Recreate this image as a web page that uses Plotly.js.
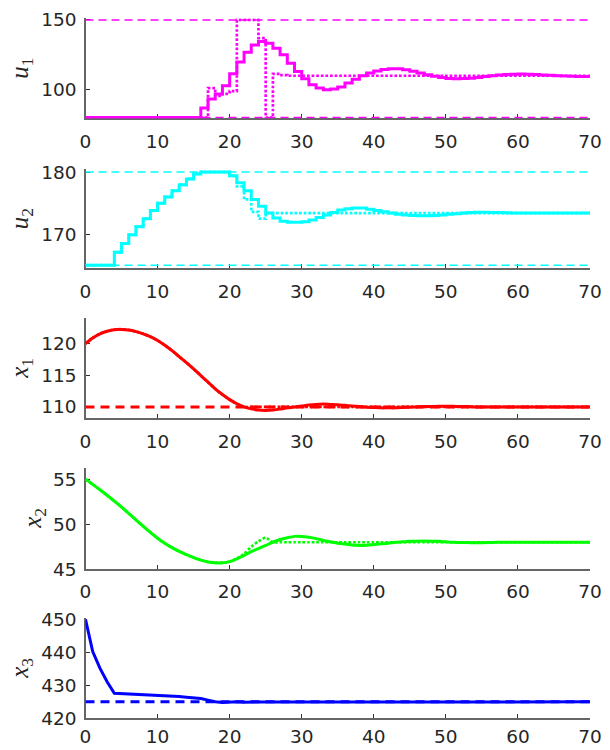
<!DOCTYPE html>
<html>
<head>
<meta charset="utf-8">
<script src="https://cdn.plot.ly/plotly-3.0.1.min.js"></script>
<style>html,body{margin:0;padding:0;background:#fff;}#chart{width:610px;height:750px;}</style>
</head>
<body>
<div id="chart"></div>
<script>
// ---------- data (time steps t = 0..70) ----------
var tEnd = 70;
var xTicks = [0, 10, 20, 30, 40, 50, 60, 70];

// inputs (piecewise constant, value for step t = 0..69)
var u1 = [80,80,80,80,80,80,80,80,80,80,80,80,80,80,80,80,
  86.9,93.3,96.9,102.9,111.4,119.8,126.9,132.1,134.5,133.3,129.8,125,119,113.1,
  107.9,103.6,101.2,100,100.5,101.9,104.8,107.5,110,112,113.5,114.5,115,115,114.3,
  113.2,112,110.8,109.6,108.7,108.1,107.9,108,108.3,108.8,109.4,110,110.5,110.9,
  111.1,111.2,111.1,110.9,110.6,110.3,110,109.8,109.6,109.5,109.5];
var u1Ref = [80,80,80,80,80,80,80,80,80,80,80,80,80,80,80,80,80,
  101.2,95.5,97,99,150,150,150,137,80,111.4,110.5,
  110,110,110,110,110,110,110,110,110,110,110,110,110,110,110,110,110,110,110,110,
  110,110,110,110,110,110,110,110,110,110,110,110,110,110,110,110,110,110,110,110,110,110];
var u1Bounds = [80, 150];

var u2 = [165,165,165,165,167.1,168.5,169.9,171.2,172.5,173.8,175,176,177,177.95,178.9,179.7,
  180,180,180,180,179.4,178.3,177,175.6,174.5,173.4,172.6,172.1,171.9,171.9,172,172.3,
  172.7,173.1,173.5,173.9,174.1,174.2,174.2,174,173.8,173.6,173.4,173.2,173.1,173,172.95,
  172.95,173,173.1,173.2,173.3,173.4,173.5,173.55,173.55,173.5,173.5,173.45,173.4,
  173.4,173.4,173.4,173.4,173.4,173.4,173.4,173.4,173.4,173.4];
var u2Ref = [165,165,165,165,167.1,168.5,169.9,171.2,172.5,173.8,175,176,177,177.95,178.9,179.7,
  180,180,180,180,179.4,177.7,175.6,173.6,172.5,
  173.4,173.4,173.4,173.4,173.4,173.4,173.4,173.4,173.4,173.4,173.4,173.4,173.4,173.4,173.4,
  173.4,173.4,173.4,173.4,173.4,173.4,173.4,173.4,173.4,173.4,173.4,173.4,173.4,173.4,173.4,
  173.4,173.4,173.4,173.4,173.4,173.4,173.4,173.4,173.4,173.4,173.4,173.4,173.4,173.4,173.4];
var u2Bounds = [165, 180];

// states (sampled at t = 0..70)
var x1 = [120,120.9,121.55,121.95,122.2,122.25,122.15,121.9,121.55,121.1,120.5,119.75,118.9,
  117.95,117,116,114.95,113.9,112.85,111.95,111.15,110.5,110,109.7,109.5,109.45,109.5,
  109.65,109.85,110,110.15,110.3,110.4,110.45,110.4,110.35,110.25,110.15,110.05,109.95,
  109.9,109.85,109.85,109.85,109.9,109.95,110,110.05,110.05,110.1,110.1,110.1,110.05,110.05,
  110,110,110,110,110,110,110,110,110,110,110,110,110,110,110,110,110];
var x1Ref = [120,120.9,121.55,121.95,122.2,122.25,122.15,121.9,121.55,121.1,120.5,119.75,118.9,
  117.95,117,116,114.95,113.9,112.85,111.95,111.15,110.5,110,
  110,110,110,110,110,110,110,110,110,110,110,110,110,110,110,110,110,110,110,110,110,110,110,
  110,110,110,110,110,110,110,110,110,110,110,110,110,110,110,110,110,110,110,110,110,110,110,110,110];
var x1Set = 110;

var x2 = [55,54.42,53.82,53.2,52.56,51.9,51.2,50.48,49.78,49.1,48.45,47.88,47.4,46.98,46.62,46.3,
  46.02,45.82,45.72,45.72,45.85,46.15,46.55,46.95,47.3,47.65,48,48.3,48.5,48.65,48.65,48.55,
  48.4,48.2,48.05,47.9,47.8,47.7,47.65,47.67,47.74,47.82,47.9,48,48.05,48.1,48.12,48.13,
  48.12,48.1,48.05,48,47.98,47.96,47.95,47.95,47.96,48,48,48,48,48,48,48,48,48,48,48,48,48,48];
var x2Ref = [55,54.42,53.82,53.2,52.56,51.9,51.2,50.48,49.78,49.1,48.45,47.88,47.4,46.98,46.62,46.3,
  46.02,45.82,45.72,45.72,45.85,46.2,46.7,47.5,48.1,48.5,
  48,48,48,48,48,48,48,48,48,48,48,48,48,48,48,48,48,48,48,48,48,48,48,48,48,48,48,48,48,48,
  48,48,48,48,48,48,48,48,48,48,48,48,48,48,48];

var x3 = [450,440.2,435.2,431.1,427.6,427.5,427.45,427.4,427.3,427.2,427.1,427,426.8,426.6,
  426.4,426.2,426,425.5,425,424.8,425,425,424.9,424.9,424.9,424.9,424.9,424.9,425.1,425.1,
  425.1,425.1,425.1,425.1,425.1,425.1,425,425,425,425,425,425,425,425,425,425,425,425,425,425,
  425,425,425,425,425,425,425,425,425,425,425,425,425,425,425,425,425,425,425,425,425];
var x3Set = 425;

// ---------- helpers ----------
function steps(n) { var a = []; for (var i = 0; i <= n; i++) a.push(i); return a; }
function stairsY(v) { return v.concat([v[v.length - 1]]); }

var MAG = '#ff00ff', CYA = '#00ffff', RED = '#ff0000', GRN = '#00ff00', BLU = '#0000ff';

var traces = [];
function add(ax, x, y, color, width, dash, shape) {
  var ln = {color: color, width: width, dash: dash || 'solid', shape: shape || 'linear'};
  if (shape === 'spline') ln.smoothing = 0.8;
  traces.push({
    x: x, y: y, type: 'scatter', mode: 'lines',
    xaxis: 'x' + (ax === 1 ? '' : ax), yaxis: 'y' + (ax === 1 ? '' : ax),
    line: ln, hoverinfo: 'skip', showlegend: false, cliponaxis: false
  });
}

// panel 1: u1
u1Bounds.forEach(function (b) { add(1, [0, tEnd], [b, b], MAG, 1.5, '8px,5px'); });
add(1, steps(u1.length), stairsY(u1), MAG, 3, 'solid', 'hv');
add(1, steps(u1Ref.length), stairsY(u1Ref), MAG, 2.7, '2.7px,1.9px', 'hv');
// panel 2: u2
u2Bounds.forEach(function (b) { add(2, [0, tEnd], [b, b], CYA, 1.5, '8px,5px'); });
add(2, steps(u2.length), stairsY(u2), CYA, 3, 'solid', 'hv');
add(2, steps(u2Ref.length), stairsY(u2Ref), CYA, 2.7, '2.7px,1.9px', 'hv');
// panel 3: x1
add(3, [0, tEnd], [x1Set, x1Set], RED, 3, '9px,6px');
add(3, steps(x1.length - 1), x1, RED, 3, 'solid', 'spline');
add(3, steps(x1Ref.length - 1), x1Ref, RED, 2.7, '2.7px,1.9px', 'spline');
// panel 4: x2
add(4, steps(x2.length - 1), x2, GRN, 3, 'solid', 'spline');
add(4, steps(x2Ref.length - 1), x2Ref, GRN, 2.7, '2.7px,1.9px', 'spline');
// panel 5: x3
add(5, [0, tEnd], [x3Set, x3Set], BLU, 3, '9px,6px');
add(5, steps(x3.length - 1), x3, BLU, 3);

// ---------- layout ----------
var W = 610, H = 750;
var xL = 85.5, xR = 590;
var panels = [
  {top: 18.3, bot: 118.3, range: [79.5, 151.2], ticks: [100, 150], label: '<i>u</i><sub>1</sub>', lx: 21.5, so: 6},
  {top: 169, bot: 268.3, range: [164.5, 180.5], ticks: [170, 180], label: '<i>u</i><sub>2</sub>', lx: 21.5, so: 6},
  {top: 318.3, bot: 418.3, range: [108.2, 124], ticks: [110, 115, 120], label: '<i>x</i><sub>1</sub>', lx: 21.5, so: 6},
  {top: 468.3, bot: 569.3, range: [45, 56.2], ticks: [45, 50, 55], label: '<i>x</i><sub>2</sub>', lx: 35, so: 5},
  {top: 618.3, bot: 718.3, range: [420, 450.3], ticks: [420, 430, 440, 450], label: '<i>x</i><sub>3</sub>', lx: 21.5, so: 1}
];

var tickFont = {family: 'DejaVu Sans, Liberation Sans, sans-serif', size: 18.5, color: '#262626'};
var layout = {
  width: W, height: H,
  margin: {l: 0, r: 0, t: 0, b: 0},
  paper_bgcolor: '#ffffff', plot_bgcolor: '#ffffff',
  showlegend: false,
  annotations: []
};
panels.forEach(function (p, i) {
  var n = i + 1, sfx = n === 1 ? '' : String(n);
  layout['xaxis' + sfx] = {
    domain: [xL / W, xR / W], range: [0, tEnd], anchor: 'y' + sfx,
    tickmode: 'array', tickvals: xTicks, ticktext: xTicks.map(String),
    ticks: 'inside', ticklen: 4, tickwidth: 1, tickcolor: '#333',
    showline: true, linecolor: '#666', linewidth: 1.2, mirror: false, layer: 'below traces',
    showgrid: false, zeroline: false, tickfont: tickFont, ticklabelstandoff: p.so
  };
  layout['yaxis' + sfx] = {
    domain: [1 - p.bot / H, 1 - p.top / H], range: p.range, anchor: 'x' + sfx,
    tickmode: 'array', tickvals: p.ticks, ticktext: p.ticks.map(String),
    ticks: 'inside', ticklen: 4, tickwidth: 1, tickcolor: '#333',
    showline: true, linecolor: '#666', linewidth: 1.2, mirror: false, layer: 'below traces',
    showgrid: false, zeroline: false, tickfont: tickFont, ticklabelstandoff: 4
  };
  layout.annotations.push({
    xref: 'paper', yref: 'paper', x: p.lx / W, y: 1 - (p.top + p.bot) / 2 / H,
    xanchor: 'center', yanchor: 'middle', showarrow: false, textangle: -90,
    text: p.label, font: {family: 'Liberation Serif, DejaVu Serif, serif', size: 25, color: '#262626'}
  });
});

Plotly.newPlot('chart', traces, layout, {staticPlot: true, displayModeBar: false});
</script>
</body>
</html>
